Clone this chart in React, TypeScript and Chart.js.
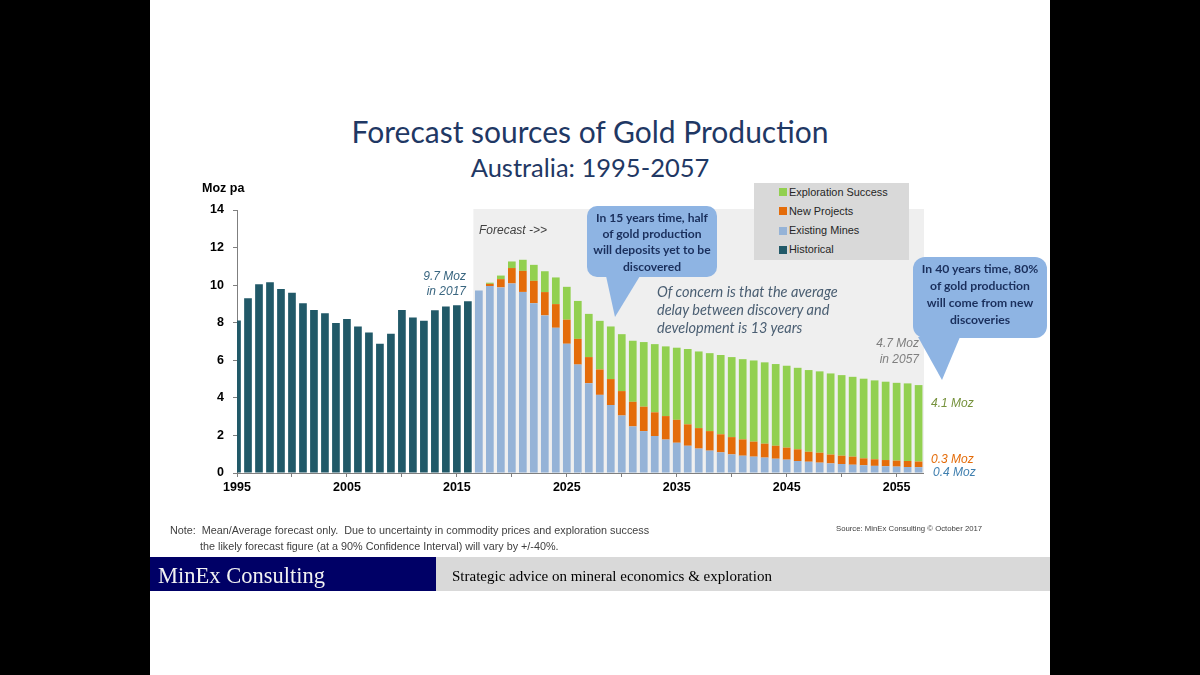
import React, { useEffect, useRef } from "react";
import { Chart, registerables } from "chart.js";

Chart.register(...registerables);

// ---------- DATA ----------
const historicalYears = [
  1995, 1996, 1997, 1998, 1999, 2000, 2001, 2002, 2003, 2004, 2005,
  2006, 2007, 2008, 2009, 2010, 2011, 2012, 2013, 2014, 2015, 2016,
];
const historicalValues = [
  8.12, 9.3, 10.05, 10.15, 9.8, 9.59, 9.04, 8.68, 8.51, 7.99, 8.2,
  7.8, 7.48, 6.88, 7.41, 8.68, 8.28, 8.1, 8.67, 8.86, 8.93, 9.14,
];
const forecastYears = [
  2017, 2018, 2019, 2020, 2021, 2022, 2023, 2024, 2025, 2026, 2027,
  2028, 2029, 2030, 2031, 2032, 2033, 2034, 2035, 2036, 2037, 2038,
  2039, 2040, 2041, 2042, 2043, 2044, 2045, 2046, 2047, 2048, 2049,
  2050, 2051, 2052, 2053, 2054, 2055, 2056, 2057,
];
const existingMines = [
  9.71, 9.95, 9.88, 10.09, 9.64, 9.04, 8.39, 7.73, 6.88, 5.77, 4.78,
  4.16, 3.62, 3.06, 2.48, 2.23, 1.97, 1.78, 1.61, 1.45, 1.3, 1.19,
  1.1, 0.99, 0.92, 0.87, 0.82, 0.76, 0.71, 0.64, 0.6, 0.55, 0.51,
  0.48, 0.44, 0.41, 0.38, 0.36, 0.34, 0.32, 0.31,
];
const newProjects = [
  0, 0.12, 0.44, 0.82, 1.12, 1.19, 1.24, 1.26, 1.28, 1.37, 1.39,
  1.35, 1.38, 1.3, 1.31, 1.3, 1.26, 1.25, 1.22, 1.14, 1.09, 1.04,
  0.96, 0.92, 0.87, 0.8, 0.74, 0.69, 0.64, 0.62, 0.53, 0.53, 0.47,
  0.44, 0.43, 0.37, 0.35, 0.33, 0.32, 0.32, 0.3,
];
const explorationSuccess = [
  0, 0.06, 0.19, 0.35, 0.59, 0.85, 1.11, 1.42, 1.75, 2.02, 2.3,
  2.59, 2.8, 3.03, 3.25, 3.44, 3.63, 3.71, 3.84, 4.01, 4.08, 4.15,
  4.22, 4.26, 4.27, 4.32, 4.33, 4.35, 4.36, 4.34, 4.35, 4.33, 4.32,
  4.29, 4.25, 4.24, 4.2, 4.17, 4.14, 4.13, 4.07,
];
const xTickYears = [1995, 2000, 2005, 2010, 2015, 2020, 2025, 2030, 2035, 2040, 2045, 2050, 2055];
const xLabelYears = [1995, 2005, 2015, 2025, 2035, 2045, 2055];

const seriesNames = ["Exploration Success", "New Projects", "Existing Mines", "Historical"];
const seriesColors = ["#92D050", "#E46C0A", "#95B3D7", "#215968"];

// ---------- HELPERS ----------
const pairs = (xs: number[], ys: number[]) => xs.map((x, i) => ({ x, y: ys[i] }));

type TProps = {
  x: number;
  y: number;
  size: number;
  color?: string;
  family?: string;
  weight?: number | string;
  italic?: boolean;
  align?: "left" | "center" | "right";
  children: React.ReactNode;
};
const T = ({ x, y, size, color = "#000", family = "'Liberation Sans', Arial", weight = 400, italic = false, align = "left", children }: TProps) => {
  const tx = align === "left" ? "0" : align === "center" ? "-50%" : "-100%";
  return (
    <div
      style={{
        position: "absolute",
        left: x,
        top: y,
        transform: `translate(${tx}, -50%)`,
        fontSize: size,
        lineHeight: `${size * 1.2}px`,
        color,
        fontFamily: family,
        fontWeight: weight as any,
        fontStyle: italic ? "italic" : "normal",
        whiteSpace: "nowrap",
      }}
    >
      {children}
    </div>
  );
};

const forecastShade = {
  id: "forecastShade",
  beforeDraw(chart: any) {
    const { ctx, chartArea, scales } = chart;
    const start = (historicalYears[historicalYears.length - 1] + forecastYears[0]) / 2;
    const left = scales.x.getPixelForValue(start);
    const top = scales.y.getPixelForValue(14) - 1;
    ctx.save();
    ctx.fillStyle = "#EFEFEF";
    ctx.fillRect(left, top, chartArea.right - left + 1, chartArea.bottom - top);
    ctx.restore();
  },
};

export default function App() {
  const canvasRef = useRef<HTMLCanvasElement | null>(null);

  useEffect(() => {
    if (!canvasRef.current) return;
    const common = { barPercentage: 0.7, categoryPercentage: 1, borderWidth: 0, clip: 0 };
    const chart = new Chart(canvasRef.current, {
      type: "bar",
      data: {
        datasets: [
          { label: seriesNames[3], data: pairs(historicalYears, historicalValues), backgroundColor: seriesColors[3], ...common },
          { label: seriesNames[2], data: pairs(forecastYears, existingMines), backgroundColor: seriesColors[2], ...common },
          { label: seriesNames[1], data: pairs(forecastYears, newProjects), backgroundColor: seriesColors[1], ...common },
          { label: seriesNames[0], data: pairs(forecastYears, explorationSuccess), backgroundColor: seriesColors[0], ...common },
        ] as any,
      },
      options: {
        animation: false,
        responsive: false,
        devicePixelRatio: 1,
        layout: { padding: { top: 30, right: 127, left: 0, bottom: 0 } },
        plugins: { legend: { display: false }, tooltip: { enabled: false } },
        scales: {
          x: {
            type: "linear",
            stacked: true,
            offset: false,
            min: 1995,
            max: 2057.4,
            grid: { display: true, drawOnChartArea: false, drawTicks: true, tickLength: 4, color: "#7F7F7F", offset: false },
            border: { display: true, color: "#7F7F7F", width: 1 },
            afterBuildTicks: (s: any) => {
              s.ticks = xTickYears.map((v) => ({ value: v }));
            },
            ticks: {
              autoSkip: false,
              maxRotation: 0,
              padding: 3,
              color: "#000",
              font: { family: "'Liberation Sans', Arial", size: 12.5, weight: "bold" },
              callback: (v: any) => (xLabelYears.includes(Number(v)) ? String(v) : ""),
            },
            afterFit: (s: any) => {
              s.height = 27;
            },
          } as any,
          y: {
            stacked: true,
            min: 0,
            max: 14,
            grid: { display: true, drawOnChartArea: false, drawTicks: true, tickLength: 4, color: "#7F7F7F" },
            border: { display: true, color: "#7F7F7F", width: 1 },
            ticks: {
              stepSize: 2,
              padding: 9,
              color: "#000",
              font: { family: "'Liberation Sans', Arial", size: 12.5, weight: "bold" },
            },
            afterFit: (s: any) => {
              s.width = 87;
            },
          } as any,
        },
      },
      plugins: [forecastShade],
    });
    return () => chart.destroy();
  }, []);

  const navy = "#1F3864";
  const calloutFill = "#8EB4E3";
  const calloutText = "#1A2F5C";
  const cFont = "Lato, 'Open Sans', sans-serif";

  return (
    <div style={{ position: "fixed", left: 0, top: 0, width: 1200, height: 675, background: "#000", overflow: "hidden" }}>
      <div style={{ position: "absolute", left: 150, top: 0, width: 900, height: 675, background: "#fff" }} />

      {/* Title */}
      <T x={590} y={131} size={30} color={navy} family={cFont} align="center">Forecast sources of Gold Production</T>
      <T x={590} y={167} size={25.5} color={navy} family={cFont} align="center">Australia: 1995-2057</T>

      {/* Chart */}
      <canvas ref={canvasRef} width={900} height={320} style={{ position: "absolute", left: 150, top: 180, width: 900, height: 320 }} />

      {/* Legend box */}
      <div style={{ position: "absolute", left: 754, top: 183, width: 155, height: 77, background: "#D9D9D9" }} />
      {seriesNames.map((n, i) => (
        <React.Fragment key={n}>
          <div style={{ position: "absolute", left: 779, top: 188 + i * 19.3, width: 8, height: 8, background: seriesColors[i] }} />
          <T x={789} y={192.5 + i * 19.3} size={10.9} color="#262626">{n}</T>
        </React.Fragment>
      ))}

      <T x={202} y={188} size={12.5} weight="bold">Moz pa</T>

      {/* Annotations */}
      <T x={479} y={230} size={12} italic color="#404040">Forecast -&gt;&gt;</T>
      <T x={466} y={276} size={12} italic color="#3A6680" align="right">9.7 Moz</T>
      <T x={466} y={291} size={12} italic color="#3A6680" align="right">in 2017</T>
      <T x={919} y={343} size={12} italic color="#7F7F7F" align="right">4.7 Moz</T>
      <T x={919} y={359} size={12} italic color="#7F7F7F" align="right">in 2057</T>
      <T x={931} y={403} size={12} italic color="#76923C">4.1 Moz</T>
      <T x={931} y={459} size={12} italic color="#E46C0A">0.3 Moz</T>
      <T x={933} y={472} size={12} italic color="#3F7FAF">0.4 Moz</T>

      <T x={657} y={292} size={14.5} italic color="#4A5E72" family={cFont}>Of concern is that the average</T>
      <T x={657} y={310} size={14.5} italic color="#4A5E72" family={cFont}>delay between discovery and</T>
      <T x={657} y={328} size={14.5} italic color="#4A5E72" family={cFont}>development is 13 years</T>

      {/* Callouts */}
      <svg width={1200} height={675} style={{ position: "absolute", left: 0, top: 0, pointerEvents: "none" }}>
        <rect x={587} y={206} width={130} height={71} rx={10} ry={10} fill={calloutFill} />
        <polygon points="606,276 615,317 640,276" fill={calloutFill} />
        <rect x={913} y={257} width={134} height={81} rx={12} ry={12} fill={calloutFill} />
        <polygon points="918,337 942,380 960,337" fill={calloutFill} />
      </svg>
      {["In 15 years time, half", "of gold production", "will deposits yet to be", "discovered"].map((s, i) => (
        <T key={s} x={652} y={218 + i * 16.2} size={12.1} weight="bold" color={calloutText} family={cFont} align="center">{s}</T>
      ))}
      {["In 40 years time, 80%", "of gold production", "will come from new", "discoveries"].map((s, i) => (
        <T key={s} x={980} y={269 + i * 17} size={12.2} weight="bold" color={calloutText} family={cFont} align="center">{s}</T>
      ))}

      {/* Notes */}
      <T x={170} y={530} size={10.8} color="#404040">Note:&nbsp; Mean/Average forecast only.&nbsp; Due to uncertainty in commodity prices and exploration success</T>
      <T x={200} y={546} size={10.8} color="#404040">the likely forecast figure (at a 90% Confidence Interval) will vary by +/-40%.</T>
      <T x={836} y={529} size={7.75} color="#404040">Source: MinEx Consulting © October 2017</T>

      {/* Footer band */}
      <div style={{ position: "absolute", left: 150, top: 557, width: 286, height: 34, background: "#000066" }} />
      <div style={{ position: "absolute", left: 436, top: 557, width: 614, height: 34, background: "#D9D9D9" }} />
      <T x={158} y={575} size={22.5} color="#F2F2F2" family="'Liberation Serif', 'Times New Roman', serif">MinEx Consulting</T>
      <T x={452} y={576} size={15} color="#000" family="'Liberation Serif', 'Times New Roman', serif">Strategic advice on mineral economics &amp; exploration</T>
    </div>
  );
}
